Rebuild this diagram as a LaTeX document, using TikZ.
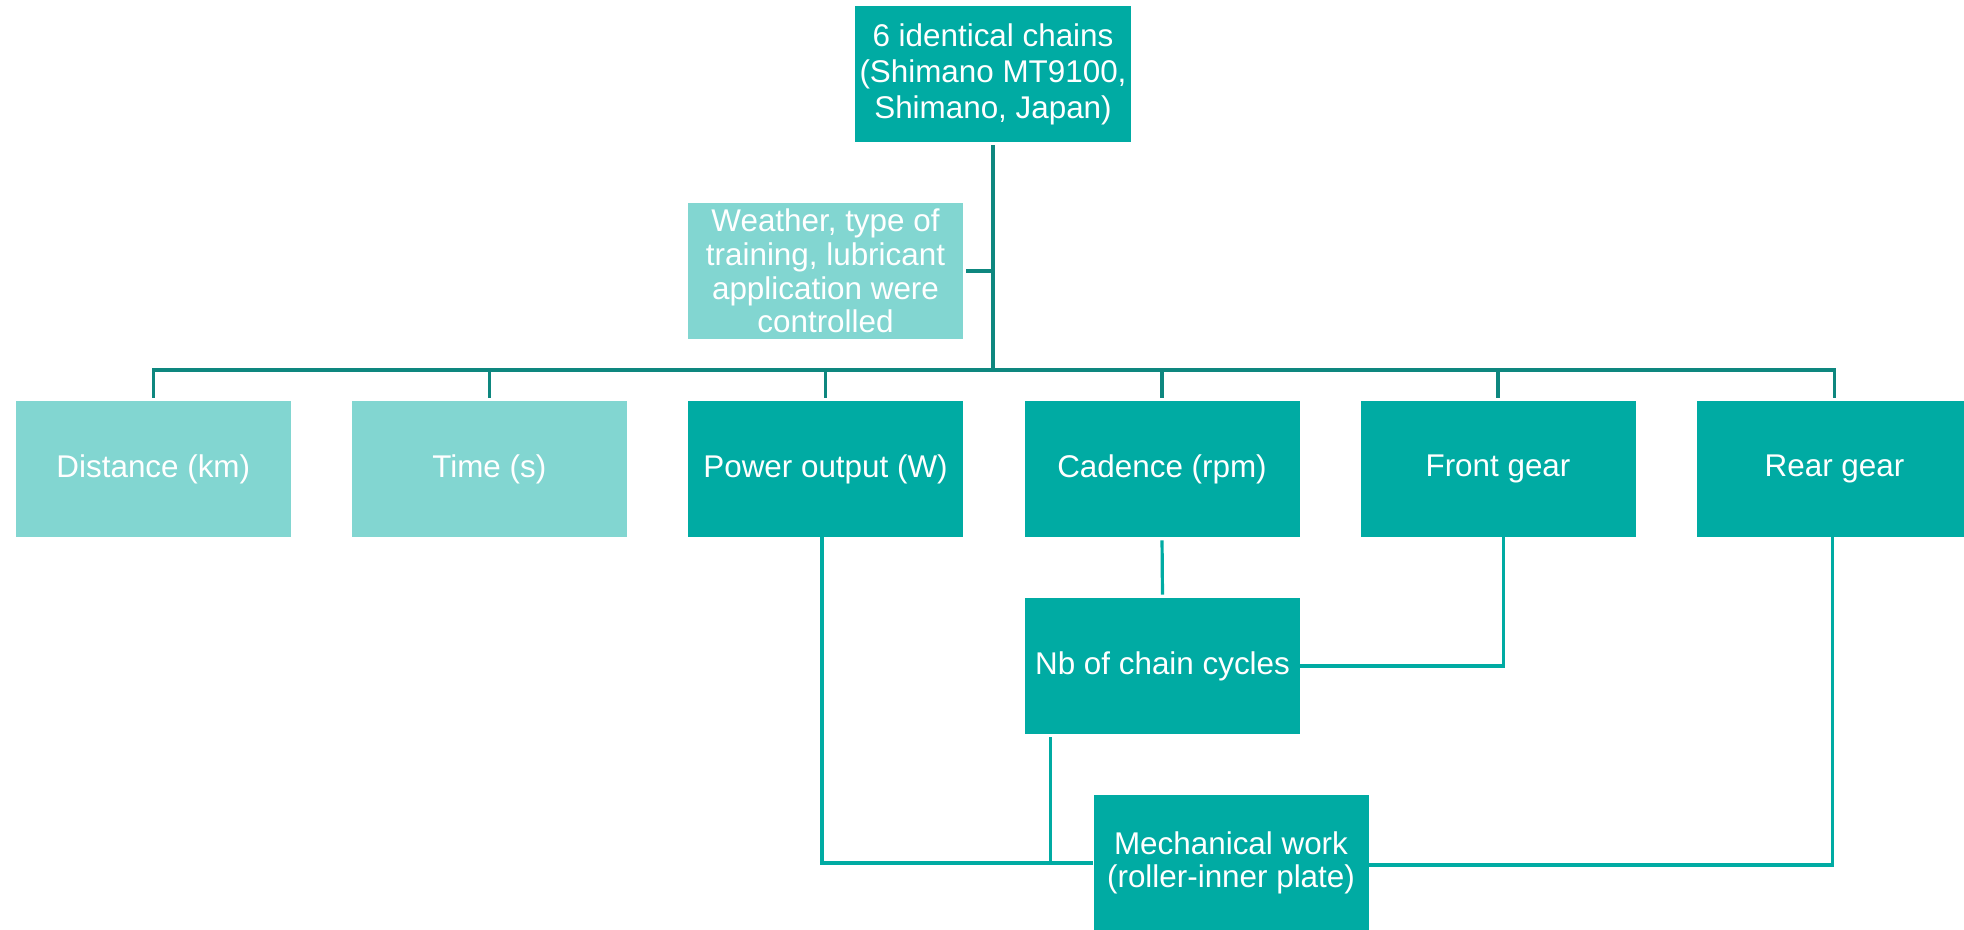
\documentclass[tikz,border=0pt]{standalone}
\usepackage{fontspec}
\setmainfont{Liberation Sans}
\definecolor{darkbox}{RGB}{0,171,163}
\definecolor{lightbox}{RGB}{130,214,209}
\definecolor{topline}{RGB}{14,135,127}
\definecolor{botline}{RGB}{0,171,163}
\begin{document}
\begin{tikzpicture}[x=0.5pt,y=-0.5pt,
  box/.style={rectangle, inner sep=0pt, minimum width=137.5pt, minimum height=68pt,
    text=white, align=center, font=\fontsize{15.7pt}{16.8pt}\selectfont},
  darkb/.style={box, fill=darkbox},
  lightb/.style={box, fill=lightbox},
  tline/.style={draw=topline, line width=1.6pt},
  bline/.style={draw=botline, line width=1.6pt}]
\useasboundingbox (0,0) rectangle (1964,930);
% nodes
\node[darkb, minimum width=138pt, font=\fontsize{15.7pt}{18pt}\selectfont] (top) at (993,74) {6 identical chains\\(Shimano MT9100,\\Shimano, Japan)};
\node[lightb] (weather) at (825.5,271) {Weather, type of\\training, lubricant\\application were\\controlled};
\node[lightb] (dist) at (153.3,469) {Distance (km)};
\node[lightb] (time) at (489.3,469) {Time (s)};
\node[darkb] (power) at (825.5,469) {Power output (W)};
\node[darkb] (cad) at (1162,469) {Cadence (rpm)};
\node[darkb] (front) at (1498,469) {Front gear};
\node[darkb] (rear) at (1834.5,469) {Rear gear};
\node[darkb] (nb) at (1162.5,666) {Nb of chain cycles};
\node[darkb] (mech) at (1231,863) {Mechanical work\\(roller-inner plate)};
% bus
\coordinate (bus) at (0,370);
\draw[tline, shorten <=1.5pt] (top.south) -- (top.south |- bus);
\draw[tline, shorten <=1.5pt] (weather.east) -- (weather.east -| top.south);
\draw[tline, shorten <=1.5pt, shorten >=1.5pt] (dist.north) |- (rear.north |- bus) -- (rear.north);
\foreach \n in {time,power,cad,front}
  \draw[tline, shorten <=1.5pt] (\n.north) -- (\n.north |- bus);
% lower connectors
\coordinate (pd) at ([xshift=-1.75pt]power.south);
\draw[bline] (pd) |- (mech.west);
\draw[bline, shorten <=1.5pt, shorten >=1.5pt] (cad.south) -- (nb.north);
\coordinate (nbd) at ([xshift=13pt]nb.south west);
\draw[bline, shorten <=1.5pt] (nbd) -- (nbd |- mech.west);
\coordinate (fd) at ([xshift=2.85pt]front.south);
\draw[bline] (nb.east) -| (fd);
\coordinate (rd) at ([xshift=-1pt]rear.south);
\draw[bline] ([yshift=-1pt]mech.east) -| (rd);
\end{tikzpicture}
\end{document}
